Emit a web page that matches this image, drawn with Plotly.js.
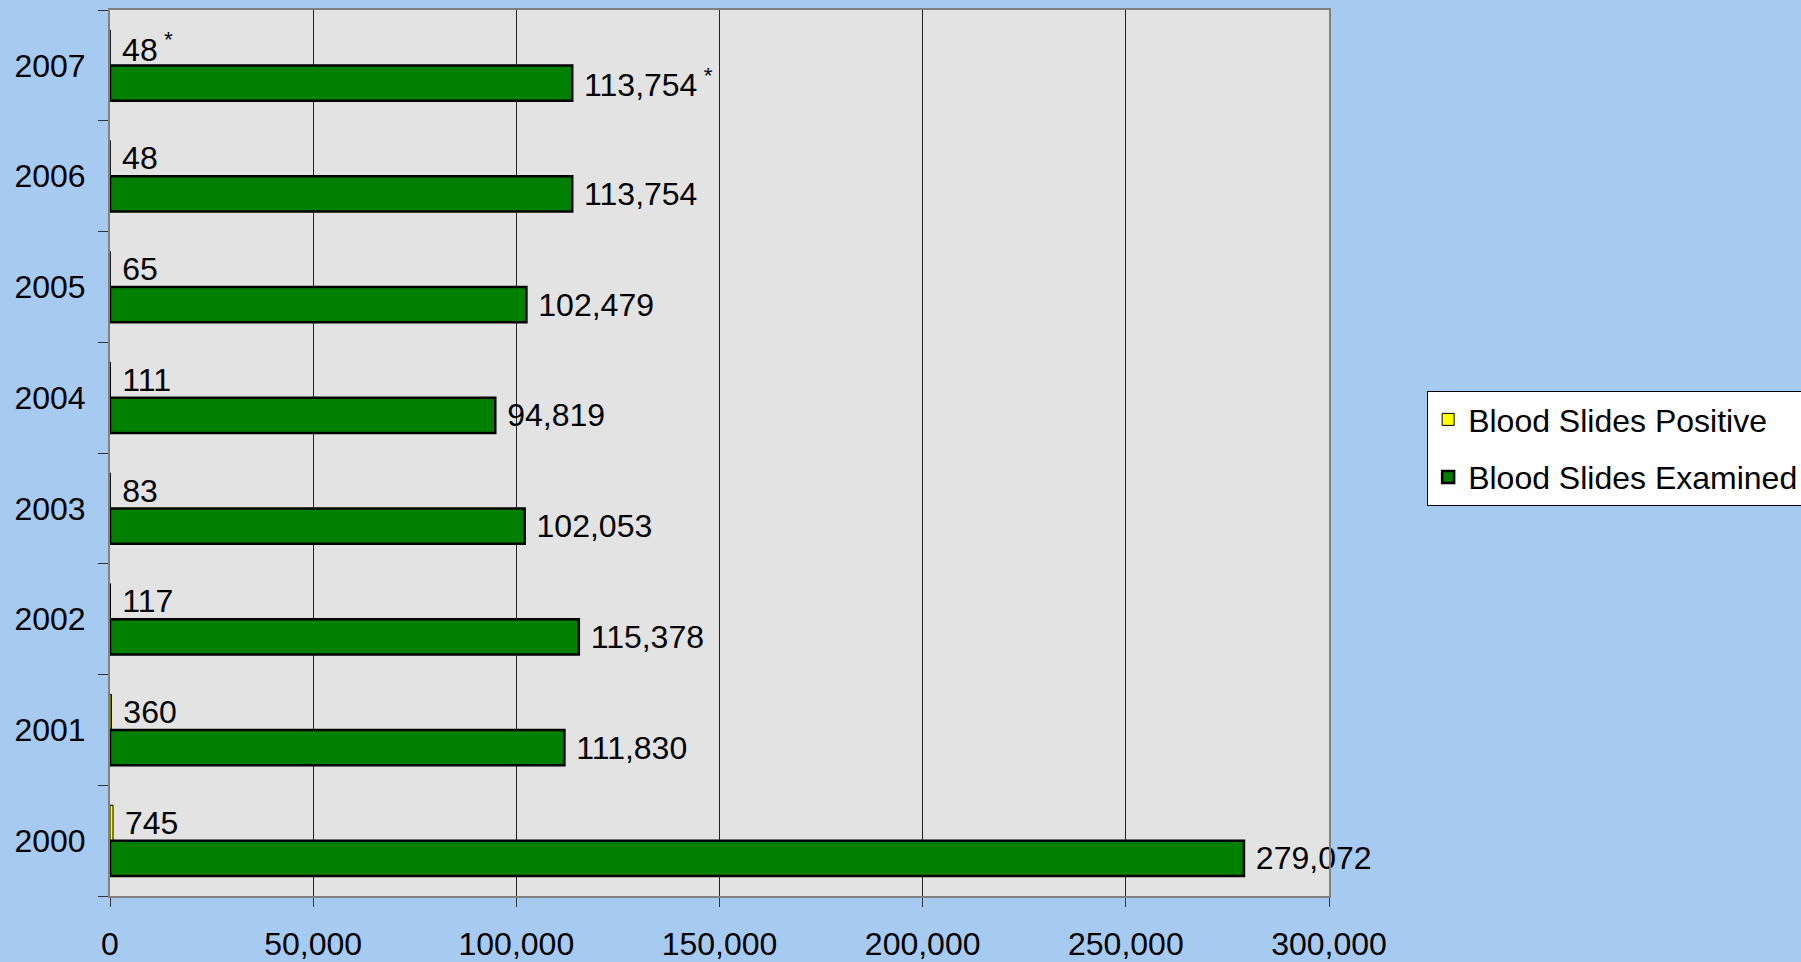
<!DOCTYPE html>
<html>
<head>
<meta charset="utf-8">
<script src="https://cdn.plot.ly/plotly-3.0.1.min.js"></script>
<style>html,body{margin:0;padding:0;background:#A6CAF0;}</style>
</head>
<body>
<div id="chart"></div>
<script>
// Data
var years = ['2000', '2001', '2002', '2003', '2004', '2005', '2006', '2007'];
var slidesPositive = [745, 360, 117, 83, 111, 65, 48, 48];
var slidesExamined = [279072, 111830, 115378, 102053, 94819, 102479, 113754, 113754];
var footnoteMarks = ['', '', '', '', '', '', '', '*'];
var xTickValues = [0, 50000, 100000, 150000, 200000, 250000, 300000];

var FONT = 'Liberation Sans, Arial, sans-serif';
var FS = 32;
var NB = '\u00a0';

function fmt(v) { return v.toLocaleString('en-US'); }
function labels(vals) {
  return vals.map(function (v, i) {
    return NB + fmt(v) + (footnoteMarks[i] ? '<sup>' + NB + footnoteMarks[i] + '</sup>' : '');
  });
}

var tracePositive = {
  type: 'bar', orientation: 'h', name: 'Blood Slides Positive',
  y: years, x: slidesPositive,
  offset: 0.0, width: 0.32,
  marker: { color: '#FFFF00', line: { color: '#000000', width: 1 } },
  text: labels(slidesPositive), textposition: 'outside', texttemplate: '%{text}',
  constraintext: 'none', cliponaxis: false,
  outsidetextfont: { family: FONT, size: FS, color: '#000000' },
  legendgroup: 'p', hoverinfo: 'x+y+name'
};
var traceExamined = {
  type: 'bar', orientation: 'h', name: 'Blood Slides Examined',
  y: years, x: slidesExamined,
  offset: -0.32, width: 0.32,
  marker: { color: '#008000', line: { color: '#000000', width: 2.5 } },
  text: labels(slidesExamined), textposition: 'outside', texttemplate: '%{text}',
  constraintext: 'none', cliponaxis: false,
  outsidetextfont: { family: FONT, size: FS, color: '#000000' },
  legendgroup: 'e', hoverinfo: 'x+y+name'
};

var layout = {
  width: 1801, height: 962,
  paper_bgcolor: '#A6CAF0', plot_bgcolor: '#E3E3E3',
  font: { family: FONT, size: FS, color: '#000000' },
  margin: { l: 110, r: 472, t: 10, b: 66, autoexpand: false },
  barmode: 'overlay',
  showlegend: true,
  legend: {
    x: 1.0805, xanchor: 'left', y: 0.505, yanchor: 'middle',
    bgcolor: '#FFFFFF', bordercolor: '#000000', borderwidth: 1,
    font: { family: FONT, size: FS, color: '#000000' },
    traceorder: 'grouped', tracegroupgap: 13
  },
  xaxis: {
    range: [0, 300000], tickvals: xTickValues, tickformat: ',d',
    showgrid: true, gridcolor: '#222222', gridwidth: 1, zeroline: false,
    showline: true, linecolor: '#808080', linewidth: 2, mirror: true,
    ticks: 'outside', ticklen: 9, tickcolor: '#333333', tickwidth: 1,
    ticklabelstandoff: 10,
    tickfont: { family: FONT, size: FS, color: '#000000' }
  },
  yaxis: {
    type: 'category', categoryorder: 'array', categoryarray: years,
    range: [-0.5, 7.5],
    showgrid: false, zeroline: false,
    showline: true, linecolor: '#808080', linewidth: 2, mirror: true,
    ticks: 'outside', ticklen: 10, tickcolor: '#333333', tickwidth: 1,
    tickson: 'boundaries', ticklabelstandoff: 16,
    tickfont: { family: FONT, size: FS, color: '#000000' }
  }
};

Plotly.newPlot('chart', [tracePositive, traceExamined], layout, { displayModeBar: false, staticPlot: true });
</script>
</body>
</html>
